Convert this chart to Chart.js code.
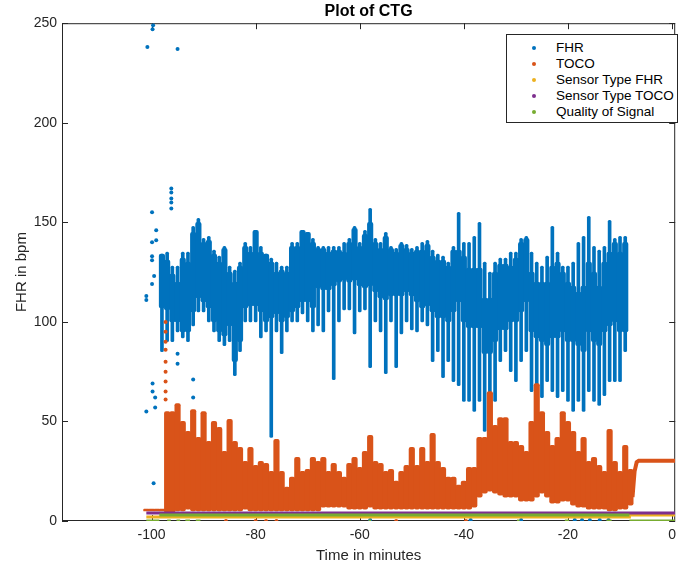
<!DOCTYPE html>
<html>
<head>
<meta charset="utf-8">
<script src="https://cdn.jsdelivr.net/npm/chart.js@4.4.1/dist/chart.umd.min.js"></script>
<style>
  body { margin: 0; background: #fff; }
  #wrap { position: relative; width: 682px; height: 565px; }
  #legend {
    position: absolute; left: 506px; top: 34px; width: 170px; height: 87px;
    border: 1px solid #262626; background: #fff;
    font-family: "Liberation Sans", Arial, sans-serif; font-size: 13.5px; color: #000;
  }
  .row { position: absolute; left: 0; height: 16px; line-height: 16px; white-space: nowrap; }
  .dot { position: absolute; left: 25px; top: 6px; width: 4px; height: 4px; border-radius: 50%; }
  .txt { position: absolute; left: 49px; top: 0; }
</style>
</head>
<body>
<div id="wrap">
  <canvas id="ctg" width="682" height="565"></canvas>
  <div id="legend"></div>
</div>
<script>
// axis ticks
const xTicks = [-100, -80, -60, -40, -20, 0];
const yTicks = [0, 50, 100, 150, 200, 250];

// FHR, one column per minute: dense band and thin spread
const fhrMinutes = [-98, -97, -96, -95, -94, -93, -92, -91, -90, -89, -88, -87, -86, -85, -84, -83, -82, -81, -80, -79,
    -78, -77, -76, -75, -74, -73, -72, -71, -70, -69, -68, -67, -66, -65, -64, -63, -62, -61, -60, -59,
    -58, -57, -56, -55, -54, -53, -52, -51, -50, -49, -48, -47, -46, -45, -44, -43, -42, -41, -40, -39,
    -38, -37, -36, -35, -34, -33, -32, -31, -30, -29, -28, -27, -26, -25, -24, -23, -22, -21, -20, -19,
    -18, -17, -16, -15, -14, -13, -12, -11, -10, -9];
const fhrCoreLow = [107, 106, 100, 100, 95, 95, 105, 112, 110, 107, 100, 95, 93, 98, 80, 90, 107, 108, 108, 105,
    100, 102, 104, 100, 102, 105, 107, 110, 110, 107, 117, 116, 116, 118, 120, 121, 120, 121, 118, 117,
    118, 115, 112, 111, 113, 113, 113, 115, 113, 110, 107, 108, 105, 102, 102, 100, 105, 110, 100, 97,
    97, 97, 84, 84, 90, 96, 96, 100, 100, 105, 110, 95, 92, 90, 88, 92, 92, 95, 90, 90,
    88, 85, 95, 90, 88, 95, 98, 100, 95, 95];
const fhrCoreHigh = [134, 131, 124, 120, 132, 130, 145, 150, 140, 141, 134, 130, 137, 125, 120, 128, 138, 135, 146, 135,
    134, 130, 125, 126, 125, 138, 138, 146, 145, 140, 137, 137, 135, 136, 136, 135, 140, 147, 138, 144,
    150, 140, 137, 143, 137, 135, 139, 137, 135, 136, 136, 139, 133, 131, 131, 128, 136, 136, 133, 127,
    127, 127, 112, 112, 125, 129, 129, 128, 132, 140, 142, 125, 120, 120, 120, 128, 130, 125, 120, 118,
    115, 118, 130, 125, 118, 130, 135, 140, 135, 140];
const fhrSpreadLow = [85, 90, 90, 95, 92, 90, 98, 105, 105, 100, 95, 90, 88, 90, 73, 85, 100, 100, 100, 92,
    95, 42, 95, 84, 95, 100, 100, 104, 100, 95, 98, 95, 105, 71, 100, 106, 106, 94, 105, 106,
    77, 100, 95, 74, 100, 77, 94, 100, 96, 95, 100, 98, 80, 85, 72, 80, 70, 68, 60, 60,
    55, 60, 45, 50, 60, 80, 85, 75, 70, 80, 85, 65, 65, 62, 70, 65, 62, 65, 60, 55,
    60, 55, 65, 60, 58, 63, 70, 70, 70, 85];
const fhrSpreadHigh = [134, 135, 128, 128, 135, 135, 148, 152, 142, 143, 136, 133, 138, 128, 126, 130, 140, 138, 146, 138,
    134, 132, 130, 128, 128, 140, 140, 146, 145, 142, 138, 138, 138, 138, 138, 140, 142, 148, 140, 146,
    157, 142, 140, 145, 138, 137, 140, 139, 137, 138, 140, 141, 136, 134, 133, 130, 138, 155, 140, 140,
    143, 150, 130, 125, 130, 132, 132, 135, 135, 142, 143, 135, 130, 128, 133, 148, 135, 128, 128, 130,
    140, 143, 153, 138, 136, 138, 151, 142, 143, 143];
// FHR single dots away from the band
const fhrDotTime = [-100.8, -99.8, -99.7, -95, -99.9, -99.1, -99.9, -99.1, -99.9, -99.9, -99.5, -99.9, -101, -101,
    -96.2, -96.2, -96.2, -96.2, -96.2, -101, -99.8, -99.8, -99.3, -99.3, -99.6, -95, -95, -92, -92,
    -58, -38.7, -29, -18.7, -17.3, -15.8, -13.9, -12.2];
const fhrDotValue = [238, 247, 249, 237, 155, 146, 140, 141, 133, 131, 123, 119, 111, 113,
    167, 165, 162, 160, 157, 55, 69, 65, 62, 57, 19, 84, 79, 71, 62,
    0.5, 0.5, 0.5, 0.5, 0.5, 0.5, 0.5, 0.5];

// TOCO, one column per minute
const tocoMinutes = [-101, -100, -99, -98, -97, -96, -95, -94, -93, -92, -91, -90, -89, -88, -87, -86, -85, -84, -83, -82,
    -81, -80, -79, -78, -77, -76, -75, -74, -73, -72, -71, -70, -69, -68, -67, -66, -65, -64, -63, -62,
    -61, -60, -59, -58, -57, -56, -55, -54, -53, -52, -51, -50, -49, -48, -47, -46, -45, -44, -43, -42,
    -41, -40, -39, -38, -37, -36, -35, -34, -33, -32, -31, -30, -29, -28, -27, -26, -25, -24, -23, -22,
    -21, -20, -19, -18, -17, -16, -15, -14, -13, -12, -11, -10, -9, -8];
const tocoLow = [5, 5, 5, 5, 4, 4, 5, 5, 6, 5, 5, 5, 5, 5, 5, 5, 5, 5, 5, 6,
    5, 5, 5, 5, 5, 5, 5, 5, 5, 5, 5, 5, 5, 5, 7, 7, 7, 7, 7, 6,
    6, 6, 6, 7, 6, 6, 6, 6, 6, 6, 6, 6, 6, 6, 6, 6, 6, 6, 6, 6,
    6, 6, 6, 7, 12, 14, 15, 14, 13, 12, 12, 12, 10, 10, 10, 12, 14, 12, 9, 9,
    10, 10, 8, 7, 7, 6, 6, 6, 6, 5, 5, 6, 6, 8];
const tocoHigh = [6, 6, 6, 6, 55, 55, 59, 50, 45, 56, 42, 55, 40, 50, 47, 35, 51, 40, 37, 30,
    37, 28, 30, 29, 25, 41, 25, 17, 22, 32, 25, 26, 32, 30, 32, 25, 29, 25, 22, 29,
    32, 27, 35, 43, 30, 29, 25, 26, 20, 25, 28, 37, 28, 37, 30, 44, 30, 27, 22, 22,
    18, 20, 27, 27, 42, 42, 65, 48, 52, 52, 40, 40, 38, 35, 50, 69, 55, 45, 38, 42,
    55, 50, 45, 35, 42, 30, 32, 28, 25, 46, 30, 25, 38, 26];
const tocoDotTime = [-97.3, -97.3, -97.3, -97.3, -97.3, -97.3, -97.3, -97.3, -97.3, -85.7, -80, -78, -76, -53, -39.6];
const tocoDotValue = [100, 95, 90, 86, 80, 75, 70, 65, 61, 0, 0, 0, 0, 0, 0];
const tocoTailTime = [-7.6, -7.2, -6.8, -6.4, 0.6];
const tocoTailValue = [12, 25, 29.5, 30.3, 30.3];

// sensor types and signal quality
const sensorFhrTime = [-101, -8.2, -8.2, 0.6];
const sensorFhrValue = [2, 2, 3, 3];
const sensorTocoTime = [-101, 0.6];
const sensorTocoValue = [4, 4];
const qualityTime = [-98.5, -8.2, -8.2, -101, -98.5, -98.5, -97, -96.3, -96.3, -95.2, -94.5, -94.5, -93.5, -92.6, -92.6,
    -91.5, -90.6, -90.6, -58.3, -57.8, -57.8, -29.8, -29.3, -29.3, -20.6, -19.8, -19.8, -12.6, -11.6, -11.6, -8.2, 0.6];
const qualityValue = [3, 3, null, 0, 0, null, 0, 0, null, 0, 0, null, 0, 0, null,
    0, 0, null, 0, 0, null, 0, 0, null, 0, 0, null, 0, 0, null, 0, 0];

const BLUE = '#0072BD', ORANGE = '#D95319', YELLOW = '#EDB120', PURPLE = '#7E2F8E', GREEN = '#77AC30';
const FONT = '"Liberation Sans", Arial, sans-serif';
const AXIS = '#262626';

function pts(xs, ys) {
    return xs.map((x, i) => ({ x: x, y: ys[i] }));
}
function ranges(xs, lo, hi) {
    return xs.map((x, i) => ({ x: x, y: [lo[i], hi[i]] }));
}

const barStyle = { type: 'bar', grouped: false, borderRadius: 2, borderSkipped: false, borderWidth: 0 };

const boxPlugin = {
    id: 'box',
    beforeDatasetsDraw(chart) {
        const { ctx, chartArea: a, scales } = chart;
        ctx.save();
        ctx.strokeStyle = AXIS;
        ctx.lineWidth = 1;
        ctx.strokeRect(a.left + 0.5, a.top + 0.5, a.right - a.left - 1, a.bottom - a.top - 1);
        ctx.beginPath();
        xTicks.forEach(v => {
            const p = Math.round(scales.x.getPixelForValue(v)) + 0.5;
            ctx.moveTo(p, a.bottom); ctx.lineTo(p, a.bottom - 6);
            ctx.moveTo(p, a.top); ctx.lineTo(p, a.top + 6);
        });
        yTicks.forEach(v => {
            const p = Math.round(scales.y.getPixelForValue(v)) + 0.5;
            ctx.moveTo(a.left, p); ctx.lineTo(a.left + 6, p);
            ctx.moveTo(a.right, p); ctx.lineTo(a.right - 6, p);
        });
        ctx.stroke();
        ctx.restore();
    }
};

const chart = new Chart(document.getElementById('ctg'), {
    type: 'scatter',
    data: {
        datasets: [
            Object.assign({ label: 'FHR', data: ranges(fhrMinutes, fhrSpreadLow, fhrSpreadHigh), backgroundColor: BLUE, barThickness: 3, order: 6 }, barStyle),
            Object.assign({ label: 'FHR', data: ranges(fhrMinutes, fhrCoreLow, fhrCoreHigh), backgroundColor: BLUE, barThickness: 5.5, order: 5 }, barStyle),
            { label: 'FHR', data: pts(fhrDotTime, fhrDotValue), backgroundColor: BLUE, pointRadius: 2, borderWidth: 0, order: 5 },
            Object.assign({ label: 'TOCO', data: ranges(tocoMinutes, tocoLow, tocoHigh), backgroundColor: ORANGE, barThickness: 5.5, order: 4 }, barStyle),
            { label: 'TOCO', data: pts(tocoDotTime, tocoDotValue), backgroundColor: ORANGE, pointRadius: 2, borderWidth: 0, order: 4 },
            { label: 'TOCO', type: 'line', data: pts(tocoTailTime, tocoTailValue), borderColor: ORANGE, borderWidth: 4, pointRadius: 0, order: 4 },
            { label: 'Sensor Type FHR', type: 'line', data: pts(sensorFhrTime, sensorFhrValue), borderColor: YELLOW, borderWidth: 3, pointRadius: 0, order: 3 },
            { label: 'Sensor Type TOCO', type: 'line', data: pts(sensorTocoTime, sensorTocoValue), borderColor: PURPLE, borderWidth: 3, pointRadius: 0, order: 2 },
            { label: 'Quality of Signal', type: 'line', data: pts(qualityTime, qualityValue), borderColor: GREEN, borderWidth: 3, pointRadius: 0, spanGaps: false, order: 1 }
        ]
    },
    options: {
        responsive: false,
        animation: false,
        events: [],
        layout: { padding: { left: 0, right: 2, top: 0, bottom: 0 } },
        plugins: {
            legend: { display: false },
            tooltip: { enabled: false },
            title: {
                display: true,
                fullSize: false,
                text: 'Plot of CTG',
                color: '#000',
                font: { family: FONT, size: 16, weight: 'bold' },
                padding: { top: 2, bottom: 2 }
            }
        },
        scales: {
            x: {
                type: 'linear',
                min: -117.2,
                max: 0.6,
                offset: false,
                grid: { display: false, drawTicks: false },
                border: { display: false },
                afterBuildTicks: s => { s.ticks = xTicks.map(v => ({ value: v })); },
                afterFit: s => { s.height = 44; },
                ticks: { color: AXIS, padding: 6, maxRotation: 0, font: { family: FONT, size: 14 } },
                title: { display: true, text: 'Time in minutes', color: AXIS, font: { family: FONT, size: 15 }, padding: { top: 0, bottom: 0 } }
            },
            y: {
                min: 0,
                max: 250,
                grid: { display: false, drawTicks: false },
                border: { display: false },
                afterBuildTicks: s => { s.ticks = yTicks.map(v => ({ value: v })); },
                afterFit: s => { s.width = 62; },
                ticks: { color: AXIS, padding: 5, font: { family: FONT, size: 14 } },
                title: { display: true, text: 'FHR in bpm', color: AXIS, font: { family: FONT, size: 15 }, padding: { top: 13, bottom: 0 } }
            }
        }
    },
    plugins: [boxPlugin]
});

// legend: one entry per series name
const legend = document.getElementById('legend');
const seen = [];
chart.data.datasets.forEach(ds => {
    if (seen.indexOf(ds.label) !== -1) return;
    seen.push(ds.label);
    const row = document.createElement('div');
    row.className = 'row';
    row.style.top = (5 + (seen.length - 1) * 16) + 'px';
    const dot = document.createElement('span');
    dot.className = 'dot';
    dot.style.background = ds.backgroundColor || ds.borderColor;
    const txt = document.createElement('span');
    txt.className = 'txt';
    txt.textContent = ds.label;
    row.appendChild(dot);
    row.appendChild(txt);
    legend.appendChild(row);
});
</script>
</body>
</html>
